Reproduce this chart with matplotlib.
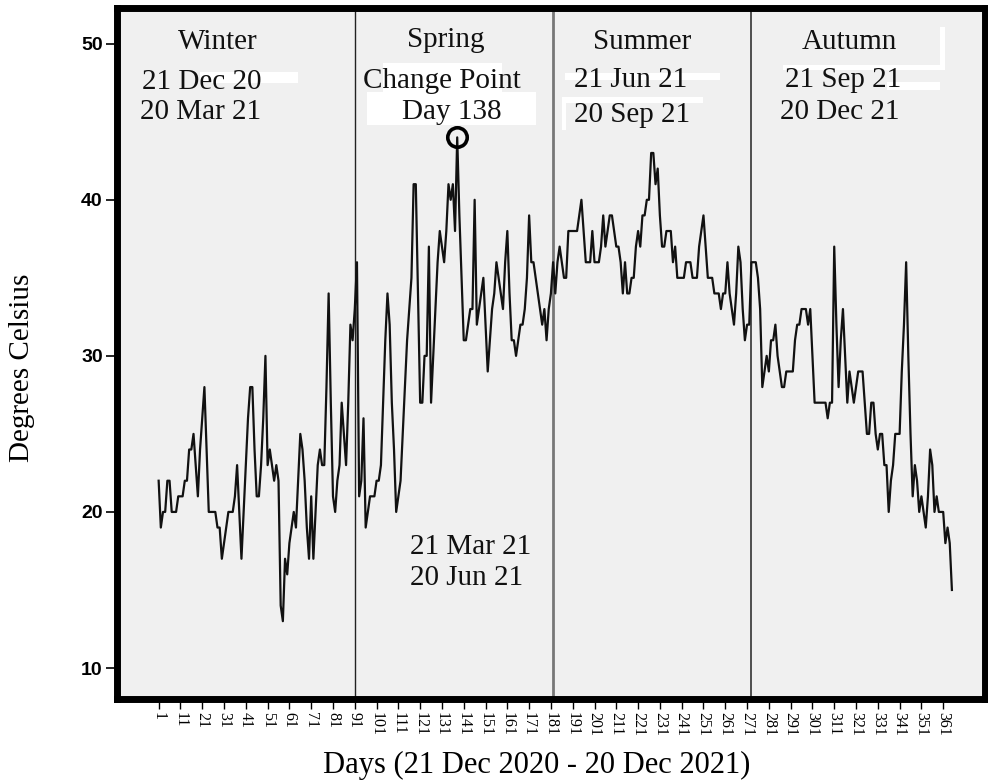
import matplotlib
matplotlib.use('Agg')
import matplotlib.pyplot as plt
import matplotlib.patches as patches
import numpy as np

# daily maximum temperature, day 1 = 21 Dec 2020
winter = [22, 19, 20, 20, 22, 22, 20, 20, 20, 21,
          21, 21, 22, 22, 24, 24, 25, 23, 21, 24,
          26, 28, 24, 20, 20, 20, 20, 19, 19, 17,
          18, 19, 20, 20, 20, 21, 23, 20, 17, 20,
          23, 26, 28, 28, 24, 21, 21, 23, 26, 30,
          23, 24, 23, 22, 23, 22, 14, 13, 17, 16,
          18, 19, 20, 19, 22, 25, 24, 22, 19, 17,
          21, 17, 20, 23, 24, 23, 23, 28, 34, 27,
          21, 20, 22, 23, 27, 25, 23, 27, 32, 31]
spring = [33, 36, 21, 22, 26, 19, 20, 21, 21, 21,
          22, 22, 23, 27, 31, 34, 32, 27, 24, 20,
          21, 22, 25, 28, 31, 33, 35, 41, 41, 34,
          27, 27, 30, 30, 37, 27, 30, 33, 36, 38,
          37, 36, 38, 41, 40, 41, 38, 44, 39, 35,
          31, 31, 32, 33, 33, 40, 32, 33, 34, 35,
          32, 29, 31, 33, 34, 36, 35, 34, 33, 36,
          38, 34, 31, 31, 30, 31, 32, 32, 33, 35,
          39, 36, 36, 35, 34, 33, 32, 33, 31, 33]
summer = [34, 36, 34, 36, 37, 36, 35, 35, 38, 38,
          38, 38, 38, 39, 40, 38, 36, 36, 36, 38,
          36, 36, 36, 37, 39, 37, 38, 39, 39, 38,
          37, 37, 36, 34, 36, 34, 34, 35, 35, 37,
          38, 37, 39, 39, 40, 40, 43, 43, 41, 42,
          39, 37, 37, 38, 38, 38, 36, 37, 35, 35,
          35, 35, 36, 36, 36, 35, 35, 35, 37, 38,
          39, 37, 35, 35, 35, 34, 34, 34, 33, 34,
          34, 36, 34, 33, 32, 34, 37, 36, 33, 31]
autumn = [32, 32, 36, 36, 36, 35, 33, 28, 29, 30,
          29, 31, 31, 32, 30, 29, 28, 28, 29, 29,
          29, 29, 31, 32, 32, 33, 33, 33, 32, 33,
          30, 27, 27, 27, 27, 27, 27, 26, 27, 27,
          37, 32, 28, 31, 33, 30, 27, 29, 28, 27,
          28, 29, 29, 29, 27, 25, 25, 27, 27, 25,
          24, 25, 25, 23, 23, 20, 22, 23, 25, 25,
          25, 29, 32, 36, 30, 25, 21, 23, 22, 20,
          21, 20, 19, 21, 24, 23, 20, 21, 20, 20,
          20, 18, 19, 18, 15]

temps = winter + spring + summer + autumn
days = np.arange(1, len(temps) + 1)

season_starts = [91, 182, 273]
change_day = 138
x_ticks = list(range(1, 366, 10))
y_ticks = [10, 20, 30, 40, 50]

fig = plt.figure(figsize=(9.88, 7.83), dpi=100)
fig.set_facecolor('white')
ax = fig.add_axes([0.118, 0.107, 0.879, 0.883])
ax.set_facecolor('#f0f0f0')

# temperature line
ax.plot(days, temps, color='#111111', linewidth=1.6, zorder=3)

# change point circle
ax.plot(change_day, temps[change_day - 1], marker='o', markersize=14,
        markerfacecolor='none', markeredgecolor='black',
        markeredgewidth=2.6, zorder=4)

# season separators
ax.axvline(season_starts[0], color='#222222', linewidth=1.0, zorder=2)
ax.axvline(season_starts[1], color='#777777', linewidth=2.0, zorder=2)
ax.axvline(season_starts[2], color='#333333', linewidth=1.2, zorder=2)

ax.set_xlim(-18.3, 380.2)
ax.set_ylim(8.0, 52.3)

# thick frame
for side in ['top', 'bottom', 'left', 'right']:
    ax.spines[side].set_linewidth(5)
    ax.spines[side].set_color('black')

ax.set_yticks(y_ticks)
ax.set_yticklabels([str(v) for v in y_ticks], fontfamily='Liberation Sans',
                   fontweight='bold', fontsize=14)
ax.tick_params(axis='y', length=8, width=1.2, pad=2)

ax.set_xticks(x_ticks)
ax.set_xticklabels([str(v) for v in x_ticks], rotation=-90,
                   fontfamily='Liberation Serif', fontsize=11.5)
ax.tick_params(axis='x', length=7, width=1.0, pad=2)

serif = 'Liberation Serif'
ax.set_xlabel('Days (21 Dec 2020 - 20 Dec 2021)', fontfamily=serif, fontsize=22,
              va='center')
ax.xaxis.set_label_coords(0.484, -0.0955)
ax.set_ylabel('Degrees Celsius', fontfamily=serif, fontsize=21, va='center')
ax.yaxis.set_label_coords(-0.109, 0.479)

# white patches behind some labels (under the text)
def white_box(x0, y0, x1, y1):
    rect = patches.Rectangle((x0 / 988, 1 - y1 / 783), (x1 - x0) / 988,
                             (y1 - y0) / 783, linewidth=0, facecolor='white',
                             transform=fig.transFigure, zorder=1.5,
                             clip_on=False)
    ax.add_patch(rect)

white_box(200, 72, 298, 83)
white_box(383, 63, 502, 92)
white_box(367, 92, 536, 125)
white_box(565, 73, 720, 80)
white_box(562, 97, 703, 103)
white_box(562, 97, 566, 130)
white_box(783, 65, 945, 70)
white_box(940, 27, 945, 70)
white_box(887, 82, 940, 90)

fs = 21
txt = dict(fontfamily=serif, fontsize=fs, color='#111111', va='center', zorder=5)
ax.text(28, 50.1, 'Winter', ha='center', **txt)
ax.text(-6.8, 47.56, '21 Dec 20', ha='left', **txt)
ax.text(-7.7, 45.6, '20 Mar 21', ha='left', **txt)
ax.text(132.8, 50.26, 'Spring', ha='center', **txt)
ax.text(131, 47.6, 'Change Point', ha='center', **txt)
ax.text(135.5, 45.6, 'Day 138', ha='center', **txt)
ax.text(223, 50.1, 'Summer', ha='center', **txt)
ax.text(191.5, 47.7, '21 Jun 21', ha='left', **txt)
ax.text(191.5, 45.45, '20 Sep 21', ha='left', **txt)
ax.text(317.8, 50.1, 'Autumn', ha='center', **txt)
ax.text(288.4, 47.7, '21 Sep 21', ha='left', **txt)
ax.text(286.1, 45.6, '20 Dec 21', ha='left', **txt)
ax.text(116.2, 17.76, '21 Mar 21', ha='left', **txt)
ax.text(116.2, 15.77, '20 Jun 21', ha='left', **txt)

fig.savefig('out.png', dpi=100)
